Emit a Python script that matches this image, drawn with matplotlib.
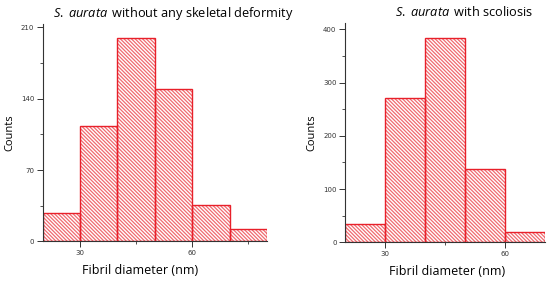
import numpy as np
import matplotlib.pyplot as plt
from matplotlib.ticker import MultipleLocator

plt.rcParams['hatch.linewidth'] = 0.9
plt.rcParams['mathtext.fontset'] = 'custom'
plt.rcParams['mathtext.it'] = 'Open Sans:italic'
plt.rcParams['mathtext.rm'] = 'Open Sans'

# bin edges (nm) and counts
bins_normal = [20, 30, 40, 50, 60, 70, 80]
counts_normal = [28, 113, 200, 150, 36, 12]

bins_scol = [20, 30, 40, 50, 60, 70]
counts_scol = [35, 271, 384, 138, 19]

red = '#e8202a'
fig = plt.figure(figsize=(5.5, 2.83), dpi=100)

ax1 = fig.add_axes([0.0776, 0.147, 0.408, 0.767])
ax2 = fig.add_axes([0.627, 0.144, 0.364, 0.775])

def draw(ax, bins, counts, ymax, ystep, title, title_x, xlab_x):
    left = bins[:-1]
    widths = np.diff(bins)
    # hatch layer (lighter red), then outline
    ax.bar(left, counts, width=widths, align='edge', facecolor='white',
           edgecolor='#f06a70', hatch='\\' * 9, linewidth=0)
    ax.bar(left, counts, width=widths, align='edge', facecolor='none',
           edgecolor=red, linewidth=1.0)
    ax.set_xlim(bins[0], bins[-1])
    ax.set_ylim(0, ymax)
    ax.spines['top'].set_visible(False)
    ax.spines['right'].set_visible(False)
    for s in ['left', 'bottom']:
        ax.spines[s].set_color('#333333')
        ax.spines[s].set_linewidth(0.8)
    ax.xaxis.set_major_locator(MultipleLocator(30))
    ax.xaxis.set_minor_locator(MultipleLocator(15))
    ax.yaxis.set_major_locator(MultipleLocator(ystep))
    ax.yaxis.set_minor_locator(MultipleLocator(ystep / 2))
    ax.tick_params(which='major', length=4, width=0.7, labelsize=5, color='#333333',
                   labelcolor='#333333', pad=2)
    ax.tick_params(which='minor', length=2, width=0.6, color='#333333')
    ax.set_xlabel('Fibril diameter (nm)', fontfamily='Open Sans', fontsize=9)
    ax.xaxis.set_label_coords(xlab_x, -0.105)
    ax.set_ylabel('Counts', fontfamily='Open Sans', fontsize=8, labelpad=4)
    ax.set_title(title, fontfamily='Open Sans', fontsize=9.2, x=title_x, pad=5)

draw(ax1, bins_normal, counts_normal, 213, 70,
     r'$\mathit{S.}$ $\mathit{aurata}\,$ without any skeletal deformity', 0.58, 0.434)
draw(ax2, bins_scol, counts_scol, 412, 100,
     r'$\mathit{S.}$ $\mathit{aurata}\,$ with scoliosis', 0.595, 0.51)

fig.savefig('out.png', dpi=100)
